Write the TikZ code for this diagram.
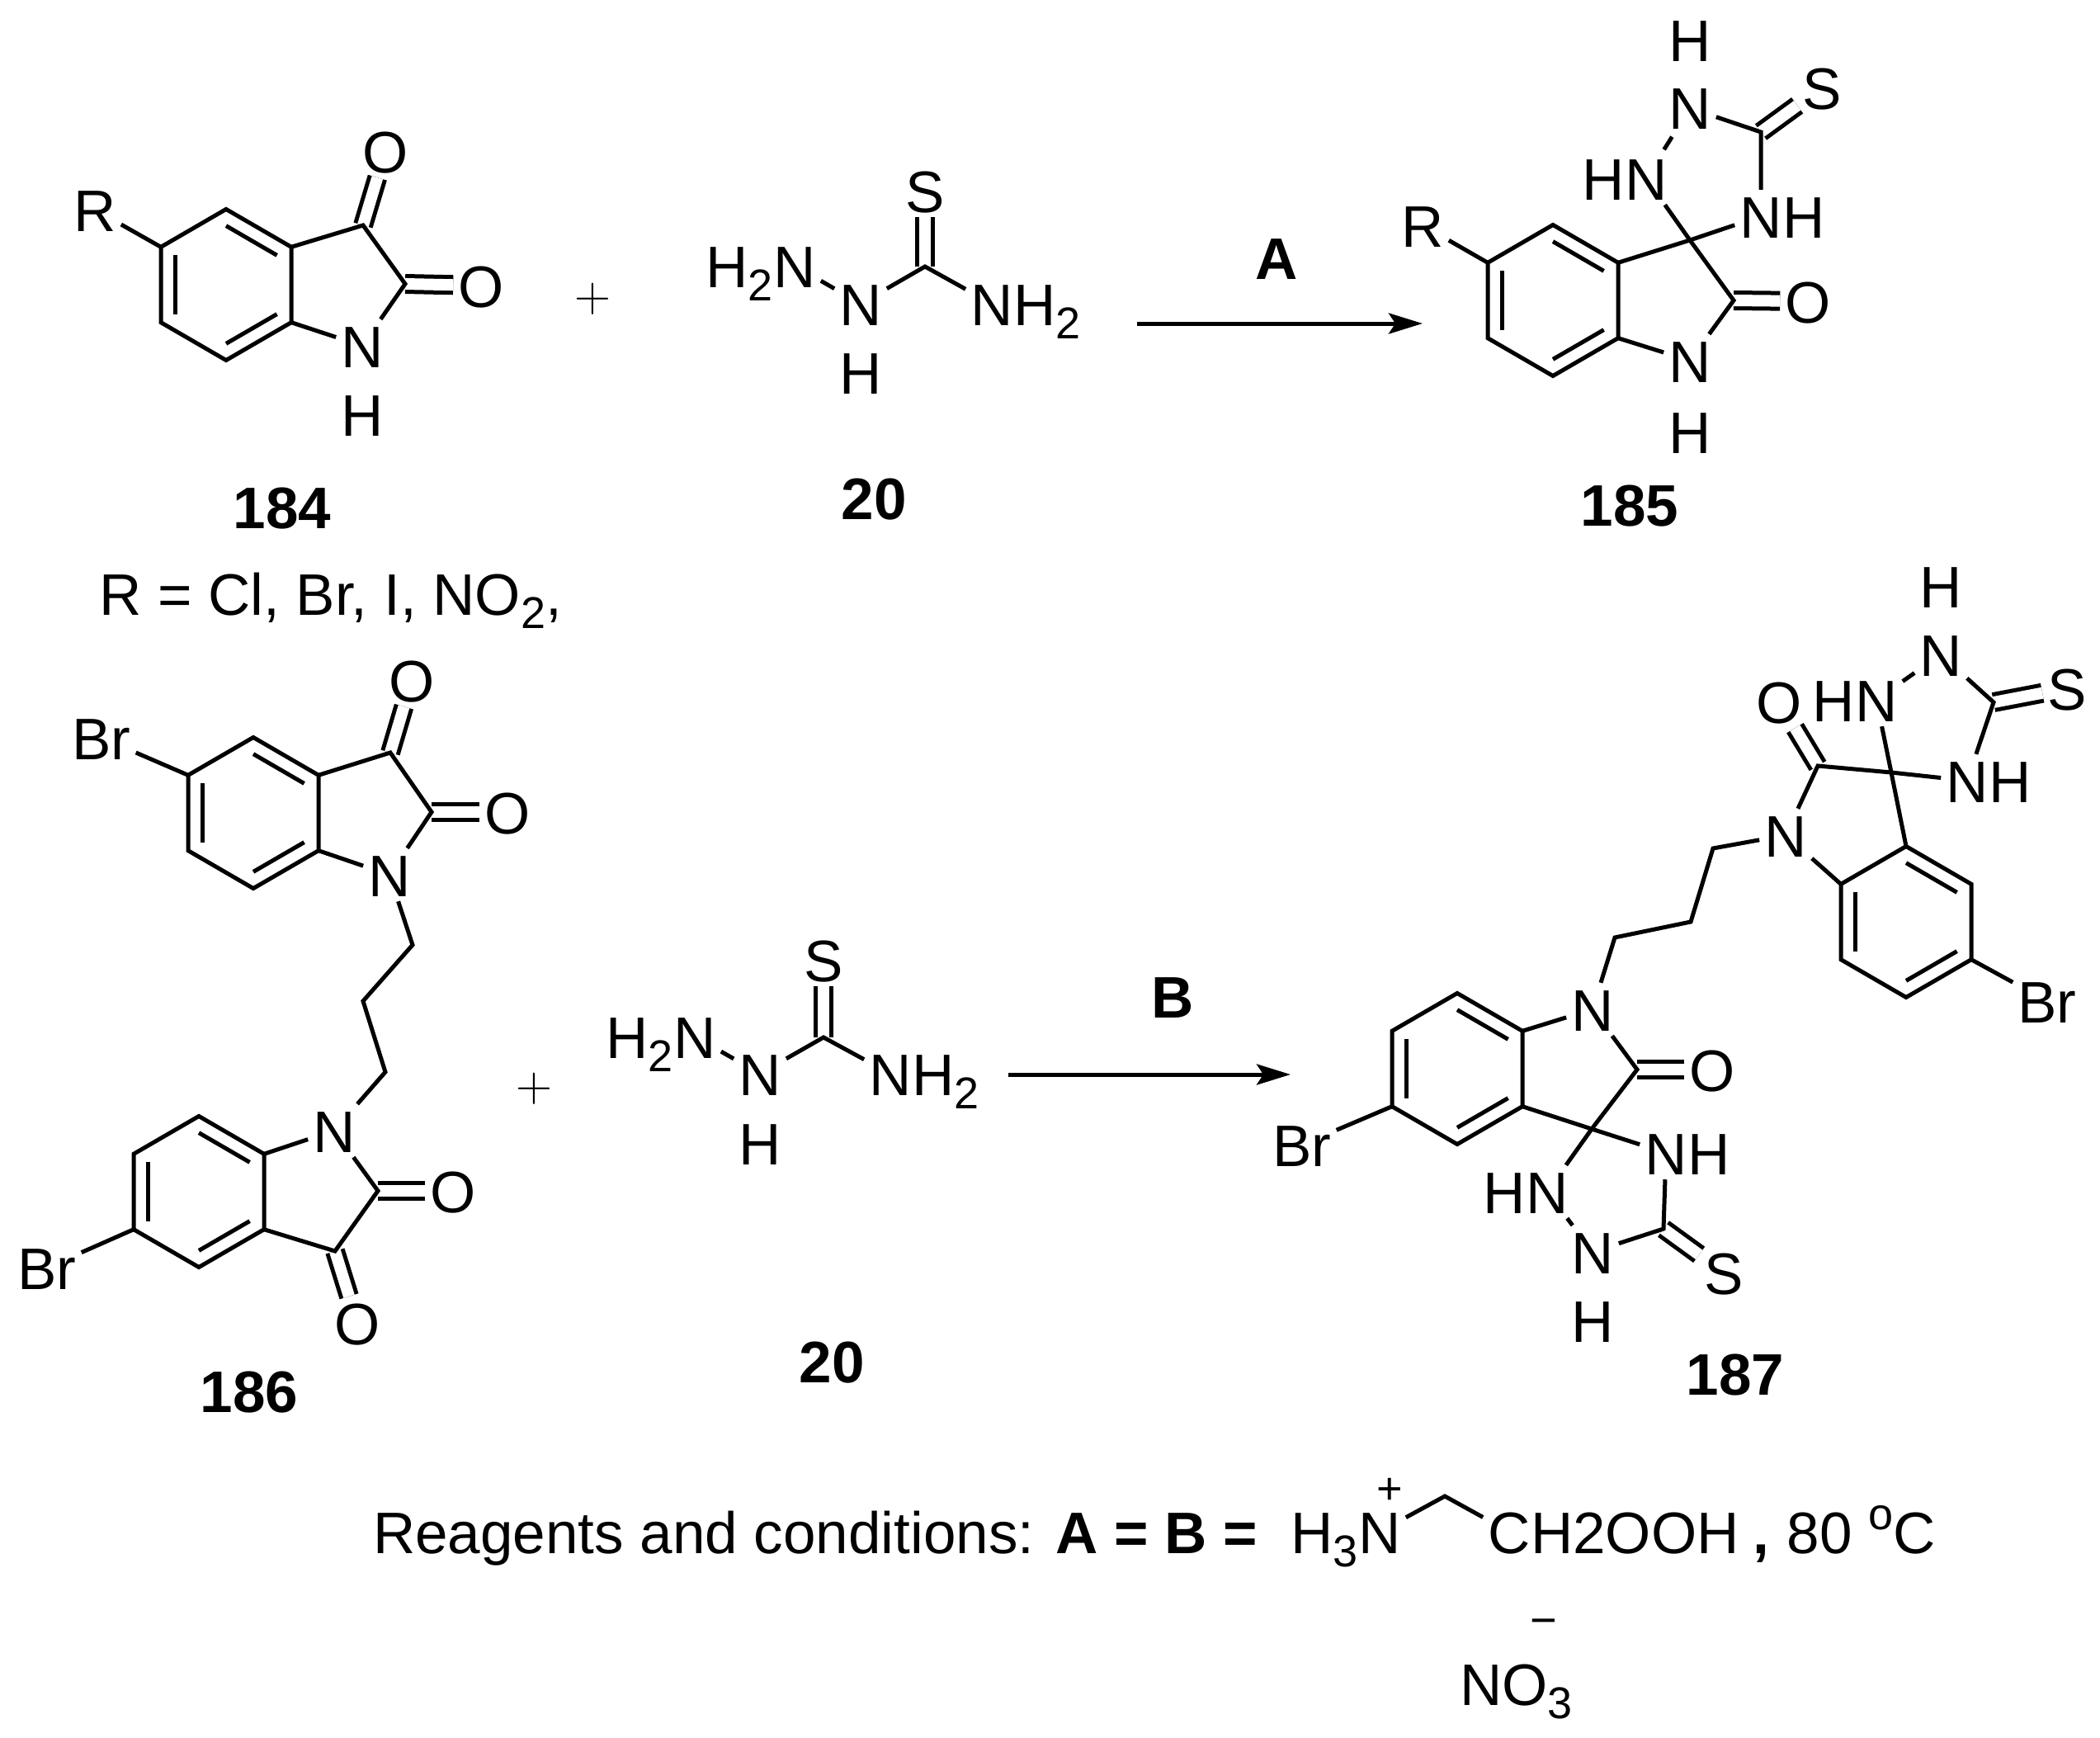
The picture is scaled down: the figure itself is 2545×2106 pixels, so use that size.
\documentclass[tikz,border=0pt]{standalone}
\usepackage{fontspec}
\setmainfont{Liberation Sans}
\newfontfamily\plusf{Latin Modern Roman}
\usetikzlibrary{calc,arrows.meta}
\newcommand\bigf{\fontsize{71}{71}\selectfont}
\newcommand\sbt[1]{\smash{\raisebox{-16pt}{\fontsize{54}{54}\selectfont #1}}}
\newcommand\lfrag[2]{\node[frag,anchor=base east] (#1lf) at ($(#1.base west)+(6pt,0pt)$) {#2};}
\newcommand\rfrag[2]{\node[frag,anchor=base west] (#1rf) at ($(#1.base east)+(-6pt,0pt)$) {#2};}
\newcommand\hexa[3]{%
  \coordinate (#1c) at (#2,#3);
  \coordinate (#1a) at ($(#2,#3)+(0,-91.5)$);
  \coordinate (#1b) at ($(#2,#3)+(79,-45.7)$);
  \coordinate (#1d) at ($(#2,#3)+(79,45.7)$);
  \coordinate (#1e) at ($(#2,#3)+(0,91.5)$);
  \coordinate (#1f) at ($(#2,#3)+(-79,45.7)$);
  \coordinate (#1g) at ($(#2,#3)+(-79,-45.7)$);
  \draw[bond] (#1a) -- (#1b) -- (#1d) -- (#1e) -- (#1f) -- (#1g) -- cycle;
  \draw[bond] ($(#1a)!.22!(#1c)$) -- ($(#1b)!.22!(#1c)$);
  \draw[bond] ($(#1f)!.22!(#1c)$) -- ($(#1g)!.22!(#1c)$);
  \draw[bond] ($(#1e)!.22!(#1c)$) -- ($(#1d)!.22!(#1c)$);
}
\tikzset{
  atom/.style={font=\bigf,inner sep=6pt,text height=52pt,text depth=0pt},
  frag/.style={font=\bigf,inner sep=0pt},
  lbl/.style={font=\bigf\bfseries,inner sep=0pt,text height=52pt,text depth=0pt},
  txt/.style={font=\bigf,inner sep=0pt,anchor=base west},
  plusn/.style={font=\plusf\fontsize{61}{61}\selectfont,inner sep=0pt},
  bond/.style={line width=5pt,line join=miter},
  dbl/.style={line width=5pt,double,double distance=14pt},
  rxn/.style={line width=5pt,-{Stealth[length=41pt,width=25pt,inset=8pt]}}
}
\begin{document}
\begin{tikzpicture}[x=1pt,y=-1pt]
\useasboundingbox (0,0) rectangle (2545,2106);

% ---------- 184
\node[atom] (aR) at (115,254) {R};
\node[atom] (aO1) at (467,183) {O};
\node[atom] (aO2) at (583,346) {O};
\node[atom] (aN) at (439,419) {N};
\node[atom] (aH) at (439,502) {H};
\coordinate (aC3) at (440,273);
\coordinate (aC2) at (491,344);
\draw[dbl] (aC3) -- (aO1);
\draw[dbl] (aC2) -- (aO2);
\hexa{ar}{274}{345}
\draw[bond] (arb) -- (aC3) -- (aC2) -- (aN);
\draw[bond] (ard) -- (aN);
\draw[bond] (arg) -- (aR);
\node[lbl] (l184) at (342,614) {184};
\node[txt] (rlist) at (120,745) {R = Cl, Br, I, NO\sbt{2},};
\node[plusn] (p1) at (718,362) {+};

% ---------- 20 (top)
\node[atom] (bS) at (1121,231) {S};
\node[atom] (bN1) at (963,322) {N};
\lfrag{bN1}{H\sbt{2}}
\node[atom] (bN2) at (1043,368) {N};
\node[atom] (bH) at (1043,451) {H};
\node[atom] (bN3) at (1202,368) {N};
\rfrag{bN3}{H\sbt{2}}
\coordinate (bC) at (1121,323);
\draw[dbl] (bC) -- (bS);
\draw[bond] (bN1) -- (bN2);
\draw[bond] (bN2) -- (bC) -- (bN3);
\node[lbl] (l20a) at (1059,603) {20};

% ---------- arrow A
\coordinate (rA1) at (1378,392);
\coordinate (rA2) at (1724,392);
\draw[rxn] (rA1) -- (rA2);
\node[lbl] (lA) at (1547,312) {A};

% ---------- 185
\node[atom] (cR) at (1724,273) {R};
\node[atom] (cO) at (2191,365) {O};
\node[atom] (cN) at (2048,437) {N};
\node[atom] (cH) at (2048,523) {H};
\node[atom] (cNH) at (2134,262) {N};
\rfrag{cNH}{H}
\node[atom] (cHN) at (1995,216) {N};
\lfrag{cHN}{H}
\node[atom] (cNt) at (2048,131) {N};
\node[atom] (cHt) at (2048,49) {H};
\node[atom] (cS) at (2208,106) {S};
\coordinate (cSp) at (2048,291);
\coordinate (cCO) at (2101,364);
\coordinate (cCS) at (2134,160);
\draw[dbl] (cCO) -- (cO);
\draw[dbl] (cCS) -- (cS);
\hexa{cr}{1882}{364}
\draw[bond] (crb) -- (cSp) -- (cNH);
\draw[bond] (cHN) -- (cSp) -- (cCO) -- (cN);
\draw[bond] (crd) -- (cN);
\draw[bond] (crg) -- (cR);
\draw[bond,shorten <=3pt,shorten >=3pt] (cHN) -- (cNt);
\draw[bond] (cNt) -- (cCS) -- (cNH);
\node[lbl] (l185) at (1975,611) {185};

% ---------- 186
\node[atom] (dBr1) at (123,894) {Br};
\node[atom] (dO1) at (499,824) {O};
\node[atom] (dO2) at (615,984) {O};
\node[atom] (dN1) at (472,1060) {N};
\node[atom] (dN2) at (405,1370) {N};
\node[atom] (dO3) at (549,1443) {O};
\node[atom] (dO4) at (433,1603) {O};
\node[atom] (dBr2) at (57,1536) {Br};
\coordinate (dC3) at (473,912);
\coordinate (dC2) at (523,984);
\coordinate (dK1) at (500,1145);
\coordinate (dK2) at (440,1213);
\coordinate (dK3) at (467,1299);
\coordinate (dC5) at (458,1443);
\coordinate (dC6) at (406,1516);
\draw[dbl] (dC3) -- (dO1);
\draw[dbl] (dC2) -- (dO2);
\draw[dbl] (dC5) -- (dO3);
\draw[dbl] (dC6) -- (dO4);
\hexa{dr}{307}{985}
\hexa{ds}{241}{1444}
\draw[bond] (drb) -- (dC3) -- (dC2) -- (dN1);
\draw[bond] (drd) -- (dN1);
\draw[bond] (drg) -- (dBr1);
\draw[bond] (dN1) -- (dK1) -- (dK2) -- (dK3) -- (dN2);
\draw[bond] (dsb) -- (dN2);
\draw[bond] (dN2) -- (dC5) -- (dC6) -- (dsd);
\draw[bond] (dsf) -- (dBr2);
\node[lbl] (l186) at (302,1685) {186};
\node[plusn] (p2) at (647,1319) {+};

% ---------- 20 (bottom)
\node[atom] (eS) at (998,1163) {S};
\node[atom] (eN1) at (842,1256) {N};
\lfrag{eN1}{H\sbt{2}}
\node[atom] (eN2) at (921,1301) {N};
\node[atom] (eH) at (921,1385) {H};
\node[atom] (eN3) at (1079,1301) {N};
\rfrag{eN3}{H\sbt{2}}
\coordinate (eC) at (998,1257);
\draw[dbl] (eC) -- (eS);
\draw[bond] (eN1) -- (eN2);
\draw[bond] (eN2) -- (eC) -- (eN3);
\node[lbl] (l20b) at (1008,1649) {20};

% ---------- arrow B
\coordinate (rB1) at (1222,1302);
\coordinate (rB2) at (1564,1302);
\draw[rxn] (rB1) -- (rB2);
\node[lbl] (lB) at (1421,1207) {B};

% ---------- 187 upper
\node[atom] (fHt) at (2352,710) {H};
\node[atom] (fNt) at (2352,793) {N};
\node[atom] (fHN) at (2274,848) {N};
\lfrag{fHN}{H}
\node[atom] (fS) at (2505,834) {S};
\node[atom] (fNH) at (2384,946) {N};
\rfrag{fNH}{H}
\node[atom] (fO) at (2156,850) {O};
\node[atom] (fN) at (2164,1012) {N};
\node[atom] (fBr) at (2481,1213) {Br};
\coordinate (fCS) at (2416,851);
\coordinate (fCO) at (2203,928);
\coordinate (fSp) at (2292,936);
\coordinate (fK1) at (2076,1028);
\coordinate (fK2) at (2049,1117);
\coordinate (fK3) at (1957,1136);
\draw[dbl] (fCS) -- (fS);
\draw[dbl] (fCO) -- (fO);
\hexa{fr}{2310}{1117}
\draw[bond] (fHN) -- (fSp) -- (fra);
\draw[bond] (fN) -- (fCO) -- (fSp) -- (fNH);
\draw[bond] (fHN) -- (fNt);
\draw[bond] (fNt) -- (fCS) -- (fNH);
\draw[bond] (fN) -- (frg);
\draw[bond] (frd) -- (fBr);

% ---------- 187 lower
\node[atom] (gN) at (1930,1223) {N};
\node[atom] (gO) at (2075,1296) {O};
\node[atom] (gNH) at (2019,1397) {N};
\rfrag{gNH}{H}
\node[atom] (gHN) at (1875,1444) {N};
\lfrag{gHN}{H}
\node[atom] (gNb) at (1930,1517) {N};
\node[atom] (gHb) at (1930,1600) {H};
\node[atom] (gS) at (2089,1542) {S};
\node[atom] (gBr) at (1578,1387) {Br};
\coordinate (gCO) at (1984,1296);
\coordinate (gSp) at (1929,1368);
\coordinate (gCS) at (2016,1489);
\draw[dbl] (gCO) -- (gO);
\draw[dbl] (gCS) -- (gS);
\hexa{gr}{1766}{1295}
\draw[bond] (fN) -- (fK1) -- (fK2) -- (fK3) -- (gN);
\draw[bond] (grb) -- (gN);
\draw[bond] (gN) -- (gCO) -- (gSp) -- (gHN);
\draw[bond] (grd) -- (gSp) -- (gNH);
\draw[bond] (gHN) -- (gNb);
\draw[bond] (gNb) -- (gCS) -- (gNH);
\draw[bond] (grf) -- (gBr);
\node[lbl] (l187) at (2103,1664) {187};

% ---------- reagents
\node[txt] (reag) at (452,1882) {Reagents and conditions: \textbf{A = B =}};
\node[atom] (hN) at (1672,1856) {N};
\lfrag{hN}{H\sbt{3}}
\node[inner sep=0pt,font=\fontsize{54}{54}\selectfont] (hP) at (1684,1807) {+};
\node[atom] (hC) at (1829,1856) {C};
\rfrag{hC}{H2OOH}
\coordinate (hA) at (1751,1813);
\draw[bond] (hN) -- (hA) -- (hC);
\node[txt] (hT) at (2124,1882) {\textbf{,} \kern2pt 80 \raisebox{29pt}{\fontsize{54}{54}\selectfont o}C};
\node[inner sep=0pt,font=\fontsize{56}{56}\selectfont] (hM) at (1871,1972) {−};
\node[txt] (hNO) at (1769,2066) {NO\sbt{3}};
\end{tikzpicture}
\end{document}
